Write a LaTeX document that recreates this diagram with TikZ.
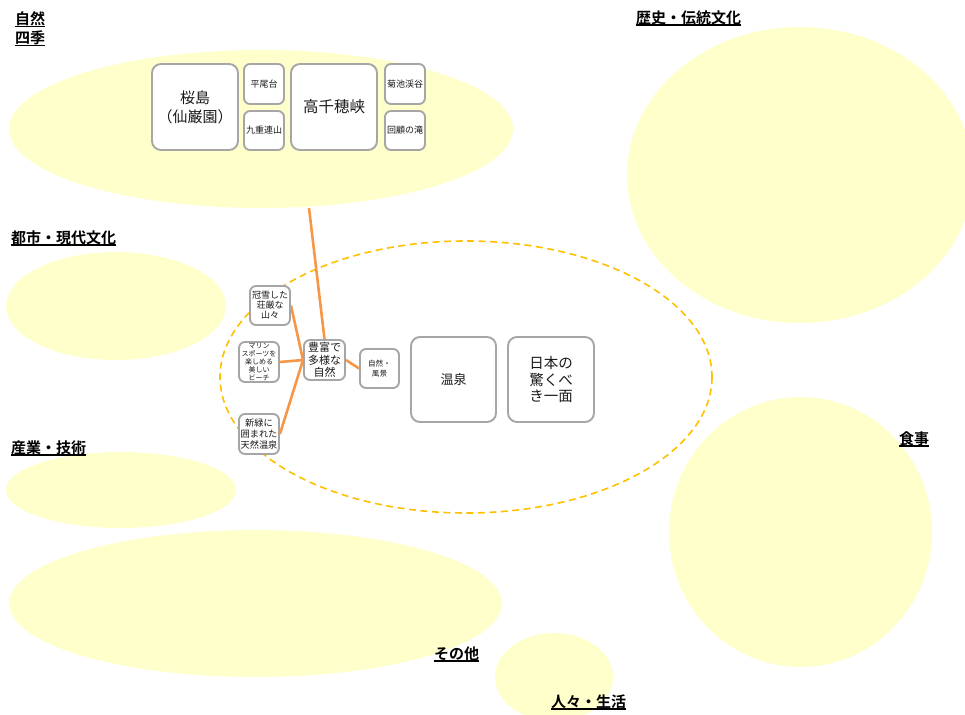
\documentclass[tikz,border=0pt]{standalone}
\usepackage{fontspec}
\newfontfamily\jp{Noto Sans CJK JP}
\newfontfamily\jpb{Noto Sans CJK JP Bold}
\pgfdeclarelayer{areas}
\pgfdeclarelayer{links}
\pgfsetlayers{areas,links,main}
\definecolor{areafill}{HTML}{FFFFCC}
\definecolor{boxline}{HTML}{A6A6A6}
\definecolor{linkline}{HTML}{F79646}
\definecolor{groupline}{HTML}{FFC000}
\definecolor{ink}{HTML}{1A1A1A}
% underlined bold heading
\newcommand{\headtext}[1]{\setbox0\hbox{\jpb #1}\rlap{\raisebox{-2.6pt}{\rule{\wd0}{1.3pt}}}\box0}
\newcommand{\fs}[2]{\fontsize{#1}{#2}\selectfont}
\tikzset{
  area/.style={fill=areafill, draw=none},
  tile/.style={draw=boxline, line width=1.9pt, fill=white, rounded corners=9pt,
    align=center, inner sep=1pt, text=ink, font=\jp},
  smalltile/.style={tile, rounded corners=6pt},
  link/.style={draw=linkline, line width=2.6pt},
  head/.style={anchor=west, inner sep=0pt, text=black, font=\fs{15}{19}},
}
\begin{document}
\begin{tikzpicture}[x=1pt,y=-1pt]
\useasboundingbox (0,0) rectangle (965,714);
\clip (0,0) rectangle (965,714);

\begin{pgfonlayer}{areas}
  \fill[area] (261,129) ellipse [x radius=252, y radius=79];
  \fill[area] (800,175) ellipse [x radius=173, y radius=148];
  \fill[area] (116,306) ellipse [x radius=110, y radius=54];
  \fill[area] (121,490) ellipse [x radius=115, y radius=38];
  \fill[area] (255.5,603.5) ellipse [x radius=246.5, y radius=73.5];
  \fill[area] (800.5,532) ellipse [x radius=131.5, y radius=135];
  \fill[area] (554,677) ellipse [x radius=59, y radius=44];
  \draw[groupline, line width=1.6pt, dash pattern=on 7pt off 4.5pt] (466,377) ellipse [x radius=246, y radius=136];
\end{pgfonlayer}

% headings
\node[head, align=left, font=\fs{15}{19}] (hShizen) at (15,29) {\headtext{自然}\\\headtext{四季}};
\node[head] (hRekishi) at (636,18) {\headtext{歴史・伝統文化}};
\node[head] (hToshi) at (11,238) {\headtext{都市・現代文化}};
\node[head] (hSangyo) at (11,448) {\headtext{産業・技術}};
\node[head] (hShokuji) at (899,439) {\headtext{食事}};
\node[head] (hSonota) at (434,654) {\headtext{その他}};
\node[head] (hHitobito) at (551,702) {\headtext{人々・生活}};

% upper group
\node[tile, minimum width=86pt, minimum height=86pt, font=\jp\fs{15}{19}] (sakura) at (195,107) {桜島\\（仙巌園）};
\node[smalltile, minimum width=40pt, minimum height=40pt, font=\jp\fs{9}{10}] (hirao) at (264,84) {平尾台};
\node[smalltile, minimum width=40pt, minimum height=39pt, font=\jp\fs{9}{10}] (kuju) at (264,130.5) {九重連山};
\node[tile, minimum width=86pt, minimum height=86pt, font=\jp\fs{15.5}{18}] (takachiho) at (334,107) {高千穂峡};
\node[smalltile, minimum width=40pt, minimum height=40pt, font=\jp\fs{9}{10}] (kikuchi) at (405,84) {菊池渓谷};
\node[smalltile, minimum width=40pt, minimum height=39pt, font=\jp\fs{9}{10}] (kaiken) at (405,130.5) {回顧の滝};
\coordinate (upperEnd) at (309,208);

% central group
\node[smalltile, minimum width=40pt, minimum height=39pt, font=\jp\fs{9}{10.2}] (kansetsu) at (270,305.5) {冠雪した\\荘厳な\\山々};
\node[smalltile, minimum width=40pt, minimum height=40pt, font=\jp\fs{7}{8}] (marine) at (259,362) {マリン\\スポーツを\\楽しめる\\美しい\\ビーチ};
\node[smalltile, minimum width=40pt, minimum height=40pt, font=\jp\fs{9.2}{11}] (shinryoku) at (259,434) {新緑に\\囲まれた\\天然温泉};
\node[smalltile, minimum width=41pt, minimum height=40pt, font=\jp\fs{11}{12.5}] (houfu) at (324.5,360) {豊富で\\多様な\\自然};
\node[smalltile, minimum width=39pt, minimum height=39pt, font=\jp\fs{7.6}{10}] (fukei) at (379.5,368.5) {自然・\\風景};
\node[tile, minimum width=85pt, minimum height=85pt, font=\jp\fs{13}{15}] (onsen) at (453.5,379.5) {温泉};
\node[tile, minimum width=86pt, minimum height=85pt, font=\jp\fs{14.5}{16.7}] (nihon) at (551,379.5) {日本の\\驚くべ\\き一面};

\begin{pgfonlayer}{links}
  \draw[link] (upperEnd) -- (houfu.north);
  \draw[link] (kansetsu.east) -- (houfu.west);
  \draw[link] (marine.east) -- (houfu.west);
  \draw[link] (shinryoku.east) -- (houfu.west);
  \draw[link] (houfu.east) -- (fukei.west);
\end{pgfonlayer}
\end{tikzpicture}
\end{document}
